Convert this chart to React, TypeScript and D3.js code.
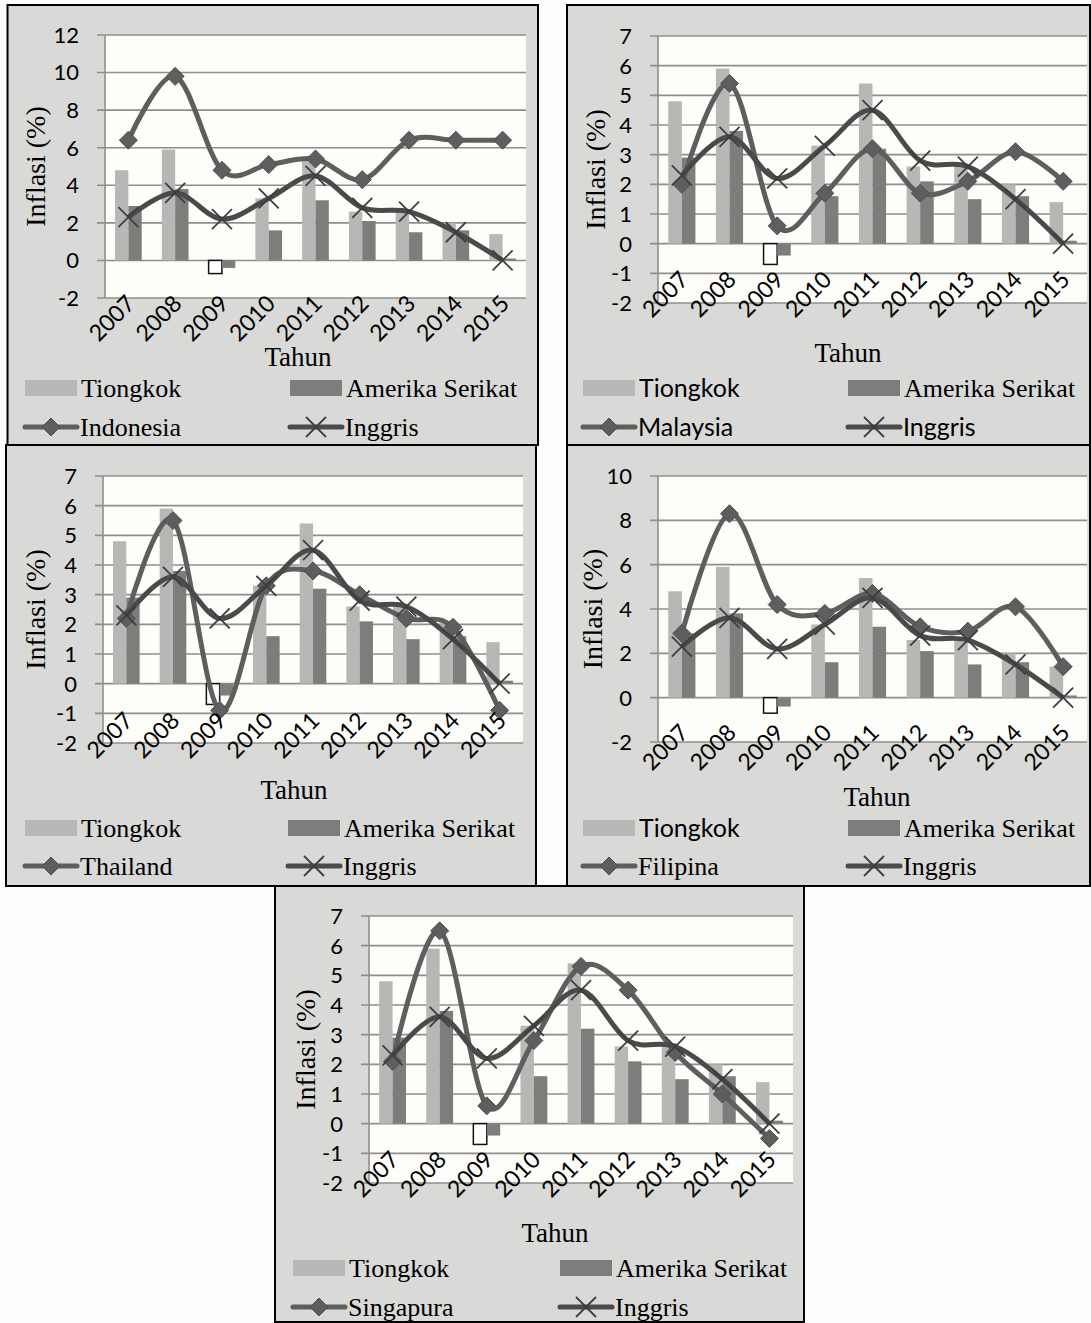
import React from "react";
import * as d3 from "d3";

const years = ["2007", "2008", "2009", "2010", "2011", "2012", "2013", "2014", "2015"];
const tiongkok = [4.8, 5.9, -0.7, 3.3, 5.4, 2.6, 2.6, 2.0, 1.4];
const amerikaSerikat = [2.9, 3.8, -0.4, 1.6, 3.2, 2.1, 1.5, 1.6, 0.1];
const inggris = [2.3, 3.6, 2.2, 3.3, 4.5, 2.8, 2.6, 1.5, 0.0];
const indonesia = [6.4, 9.8, 4.8, 5.1, 5.4, 4.3, 6.4, 6.4, 6.4];
const malaysia = [2.0, 5.4, 0.6, 1.7, 3.2, 1.7, 2.1, 3.1, 2.1];
const thailand = [2.2, 5.5, -0.9, 3.3, 3.8, 3.0, 2.2, 1.9, -0.9];
const filipina = [2.9, 8.3, 4.2, 3.8, 4.7, 3.2, 3.0, 4.1, 1.4];
const singapura = [2.1, 6.5, 0.6, 2.8, 5.3, 4.5, 2.4, 1.0, -0.5];

const ticksWide = [-2, 0, 2, 4, 6, 8, 10, 12];
const ticksSmall = [-2, -1, 0, 1, 2, 3, 4, 5, 6, 7];
const ticksMid = [-2, 0, 2, 4, 6, 8, 10];

const seriesNames = ["Tiongkok", "Amerika Serikat", "Inggris"];

const SERIF = "'Liberation Serif', 'Times New Roman', serif";
const SANS = "Lato, 'Noto Sans', sans-serif";

type Panel = {
  country: string;
  values: number[];
  ticks: number[];
  box: [number, number, number, number];
  plot: [number, number, number, number];
  yTitleX: number;
  tahun: [number, number];
  labelOff: number;
  legX: [number, number];
  legY: [number, number];
  sans: [boolean, boolean, boolean, boolean];
};

const panels: Panel[] = [
  { country: "Indonesia", values: indonesia, ticks: ticksWide, box: [7.5, 5, 538, 445], plot: [105, 35, 526, 298], yTitleX: 35, tahun: [298, 357], labelOff: -7, legX: [25, 290], legY: [388, 427], sans: [false, false, false, false] },
  { country: "Malaysia", values: malaysia, ticks: ticksSmall, box: [567, 5, 1090, 445], plot: [658, 36, 1087, 303], yTitleX: 595, tahun: [848, 353], labelOff: -36, legX: [583, 848], legY: [388, 427], sans: [true, false, true, true] },
  { country: "Thailand", values: thailand, ticks: ticksSmall, box: [6, 445, 536, 886], plot: [103, 476, 523, 743], yTitleX: 35, tahun: [294, 790], labelOff: -35, legX: [25, 288], legY: [828, 866], sans: [false, false, false, false] },
  { country: "Filipina", values: filipina, ticks: ticksMid, box: [567, 445, 1090, 886], plot: [658, 476, 1087, 742], yTitleX: 592, tahun: [877, 797], labelOff: -22, legX: [583, 848], legY: [828, 866], sans: [true, false, false, false] },
  { country: "Singapura", values: singapura, ticks: ticksSmall, box: [275, 886, 804, 1322], plot: [369, 916, 793, 1183], yTitleX: 305, tahun: [555, 1233], labelOff: -36, legX: [293, 560], legY: [1268, 1307], sans: [false, false, false, false] },
];

const C_PANEL = "#d9d9d7";
const C_PLOT = "#fdfdf9";
const C_GRID = "#8e8e8e";
const C_BAR1 = "#b7b7b5";
const C_BAR2 = "#7d7d7b";
const C_LINE = "#5e5e5e";
const C_UK = "#4a4a4a";

const diamond = (h: number) => `M0,${-h}L${h},0L0,${h}L${-h},0Z`;

function Diamond({ x, y }: { x: number; y: number }) {
  return <path d={diamond(9)} transform={`translate(${x},${y})`} fill={C_LINE} stroke="#505050" strokeWidth={1} />;
}
function Cross({ x, y }: { x: number; y: number }) {
  const h = 10;
  return (
    <g transform={`translate(${x},${y})`} stroke="#3e3e3e" strokeWidth={1.8}>
      <line x1={-h} y1={-h} x2={h} y2={h} />
      <line x1={-h} y1={h} x2={h} y2={-h} />
    </g>
  );
}

function ChartPanel({ p }: { p: Panel }) {
  const [l, t, r, b] = p.plot;
  const x = d3.scaleBand<string>().domain(years).range([l, r]).padding(0);
  const y = d3.scaleLinear().domain([p.ticks[0], p.ticks[p.ticks.length - 1]]).range([b, t]);
  const bw = x.bandwidth() * 0.285;
  const cx = (yr: string) => (x(yr) as number) + x.bandwidth() / 2;
  const line = d3
    .line<number>()
    .x((_, i) => cx(years[i]))
    .y((d) => y(d))
    .curve(d3.curveCatmullRom.alpha(0));
  const [bx0, by0, bx1, by1] = p.box;
  const legendFont = (i: number) => (p.sans[i] ? SANS : SERIF);
  const legendSize = (i: number) => (p.sans[i] ? 25 : 26);
  return (
    <g>
      <rect x={bx0} y={by0} width={bx1 - bx0} height={by1 - by0} fill={C_PANEL} stroke="#000" strokeWidth={2} />
      <rect x={l} y={t} width={r - l} height={b - t} fill={C_PLOT} />
      {p.ticks.map((v) => (
        <g key={v}>
          <line x1={l - 8} x2={r} y1={y(v)} y2={y(v)} stroke={C_GRID} strokeWidth={1.6} />
          <text x={l - 26} y={y(v)} dy="0.36em" textAnchor="end" fontFamily={SANS} fontSize={22} fill="#000">
            {v}
          </text>
        </g>
      ))}
      <line x1={l} x2={l} y1={t} y2={b} stroke={C_GRID} strokeWidth={1.6} />
      {years.map((yr, i) => {
        const c = cx(yr);
        const v1 = tiongkok[i];
        const v2 = amerikaSerikat[i];
        return (
          <g key={yr}>
            <rect
              x={c - bw}
              y={Math.min(y(v1), y(0))}
              width={bw}
              height={Math.abs(y(v1) - y(0))}
              fill={v1 < 0 ? "#ffffff" : C_BAR1}
              stroke={v1 < 0 ? "#111" : "none"}
              strokeWidth={1.5}
            />
            <rect x={c} y={Math.min(y(v2), y(0))} width={bw} height={Math.abs(y(v2) - y(0))} fill={C_BAR2} />
          </g>
        );
      })}
      <path d={line(p.values) as string} fill="none" stroke={C_LINE} strokeWidth={5} strokeLinejoin="round" />
      {p.values.map((v, i) => (
        <Diamond key={i} x={cx(years[i])} y={y(v)} />
      ))}
      <path d={line(inggris) as string} fill="none" stroke={C_UK} strokeWidth={5} strokeLinejoin="round" />
      {inggris.map((v, i) => (
        <Cross key={i} x={cx(years[i])} y={y(v)} />
      ))}
      {years.map((yr) => {
        const ax = cx(yr) + 8;
        const ay = b + p.labelOff + 14;
        return (
          <text key={yr} x={ax} y={ay} textAnchor="end" fontFamily={SANS} fontSize={23} fill="#000" transform={`rotate(-45,${ax},${ay})`}>
            {yr}
          </text>
        );
      })}
      <text
        transform={`translate(${p.yTitleX},${(t + b) / 2}) rotate(-90)`}
        textAnchor="middle"
        dy="0.35em"
        fontFamily={SERIF}
        fontSize={28}
        fill="#000"
      >
        Inflasi (%)
      </text>
      <text x={p.tahun[0]} y={p.tahun[1]} dy="0.35em" textAnchor="middle" fontFamily={SERIF} fontSize={27} fill="#000">
        Tahun
      </text>
      {/* legend */}
      <rect x={p.legX[0]} y={p.legY[0] - 8} width={52} height={16} fill={C_BAR1} />
      <text x={p.legX[0] + 56} y={p.legY[0]} dy="0.35em" fontFamily={legendFont(0)} fontSize={legendSize(0)} fill="#000">
        {seriesNames[0]}
      </text>
      <rect x={p.legX[1]} y={p.legY[0] - 8} width={52} height={16} fill={C_BAR2} />
      <text x={p.legX[1] + 56} y={p.legY[0]} dy="0.35em" fontFamily={legendFont(1)} fontSize={legendSize(1)} fill="#000">
        {seriesNames[1]}
      </text>
      <line x1={p.legX[0]} x2={p.legX[0] + 52} y1={p.legY[1]} y2={p.legY[1]} stroke={C_LINE} strokeWidth={5} strokeLinecap="round" />
      <Diamond x={p.legX[0] + 26} y={p.legY[1]} />
      <text x={p.legX[0] + 55} y={p.legY[1]} dy="0.35em" fontFamily={legendFont(2)} fontSize={legendSize(2)} fill="#000">
        {p.country}
      </text>
      <line x1={p.legX[1]} x2={p.legX[1] + 52} y1={p.legY[1]} y2={p.legY[1]} stroke={C_UK} strokeWidth={5} strokeLinecap="round" />
      <Cross x={p.legX[1] + 26} y={p.legY[1]} />
      <text x={p.legX[1] + 55} y={p.legY[1]} dy="0.35em" fontFamily={legendFont(3)} fontSize={legendSize(3)} fill="#000">
        {seriesNames[2]}
      </text>
    </g>
  );
}

export default function App() {
  return (
    <svg width={1091} height={1323} style={{ position: "absolute", left: 0, top: 0, display: "block", background: "#fff" }}>
      <rect x={0} y={0} width={1091} height={1323} fill="#fefefe" />
      {panels.map((p) => (
        <ChartPanel key={p.country} p={p} />
      ))}
    </svg>
  );
}
